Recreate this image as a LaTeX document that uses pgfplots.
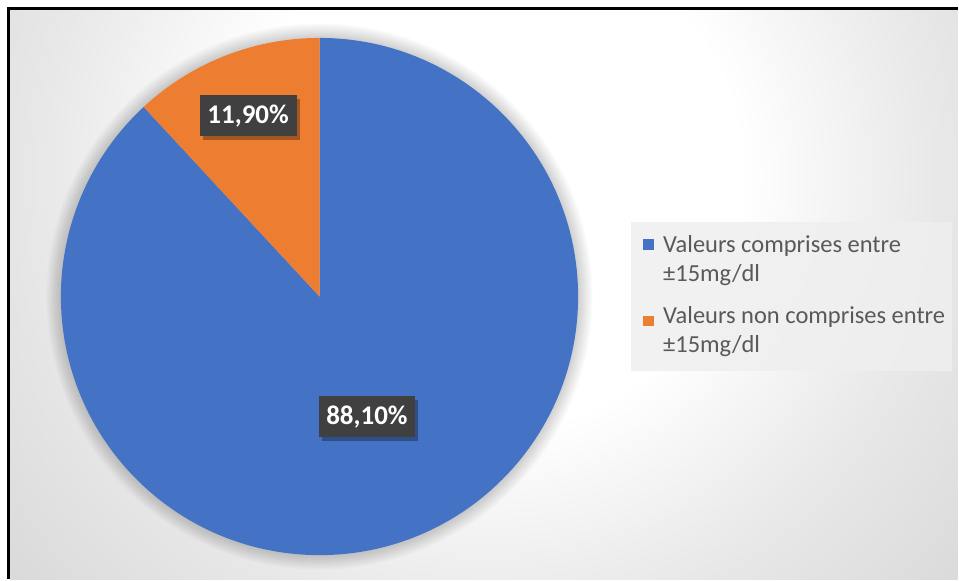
\documentclass[border=0pt]{standalone}
\usepackage{fontspec}
\setmainfont{Carlito}
\usepackage{pgfplots}
\usepackage{pgfplotstable}
\pgfplotsset{compat=1.18}
\usetikzlibrary{shadows}
\definecolor{pieblue}{HTML}{4472C4}
\definecolor{pieorange}{HTML}{ED7D31}
\definecolor{lblbg}{HTML}{404040}
\definecolor{legtext}{HTML}{595959}
\definecolor{legbg}{HTML}{EFEFEF}
\pgfdeclareradialshading{bgshade}{\pgfpoint{0bp}{0bp}}{%
  color(0bp)=(white); color(9bp)=(white); color(16bp)=(black!9);
  color(25bp)=(black!17); color(33bp)=(black!22); color(42bp)=(black!26);
  color(50bp)=(black!28)}

\pgfplotstableread{
share
88.1
11.9
}\piedata

\begin{document}
\begin{tikzpicture}
\begin{axis}[x=1pt,y=1pt,scale only axis,hide axis,clip=false,
  xmin=-320,xmax=639,ymin=-283,ymax=297,
  at={(0,0)},anchor=south west]
% background
\fill[white] (axis cs:-320,-283) rectangle (axis cs:639,297);
\begin{scope}
\clip (axis cs:-310,-283) rectangle (axis cs:639,287);
\shade[shading=bgshade] (axis cs:170,120) circle[radius=700pt];
\end{scope}
\draw[line width=3pt,black] (axis cs:-311,-283) -- (axis cs:-311,288) -- (axis cs:639,288);
% soft shadow around the pie
\pgfplotsinvokeforeach{1,...,9}{
  \fill[black,opacity=0.02] (axis cs:0,0) circle[radius={259pt+1.6pt*#1}];
}
% pie slices from the table
\pgfplotstablegetelem{0}{share}\of\piedata \let\vA\pgfplotsretval
\pgfplotstablegetelem{1}{share}\of\piedata \let\vB\pgfplotsretval
\pgfmathsetmacro\angA{90-3.6*\vA}
\pgfmathsetmacro\angB{90+3.6*\vB}
\fill[pieblue] (axis cs:0,0) -- (axis cs:0,259) arc[start angle=90,end angle=\angA,radius=259pt] -- cycle;
\fill[pieorange] (axis cs:0,0) -- (axis cs:0,259) arc[start angle=90,end angle=\angB,radius=259pt] -- cycle;
% data labels
\tikzset{lbl/.style={fill=lblbg,text=white,font=\fontsize{27}{30}\selectfont\bfseries,
  minimum width=97pt,minimum height=41pt,inner sep=0pt,
  drop shadow={shadow xshift=3pt,shadow yshift=-4pt,opacity=0.3,fill=black}}}
\node[lbl] at (axis cs:-71.5,181) {11,90\%};
\node[lbl] at (axis cs:47.5,-120.5) {88,10\%};
% legend
\fill[legbg,opacity=0.85] (axis cs:312,75) rectangle (axis cs:633,-75);
\fill[pieblue] (axis cs:324,58) rectangle (axis cs:335,47);
\fill[pieorange] (axis cs:324,-19) rectangle (axis cs:335,-30);
\tikzset{lt/.style={anchor=base west,inner sep=0pt,text=legtext,font=\fontsize{24.5}{28}\selectfont}}
\node[lt] at (axis cs:344,44) {Valeurs comprises entre};
\node[lt] at (axis cs:344,15) {±15mg/dl};
\node[lt] at (axis cs:344,-27.5) {Valeurs non comprises entre};
\node[lt] at (axis cs:344,-56) {±15mg/dl};
\end{axis}
\end{tikzpicture}
\end{document}
